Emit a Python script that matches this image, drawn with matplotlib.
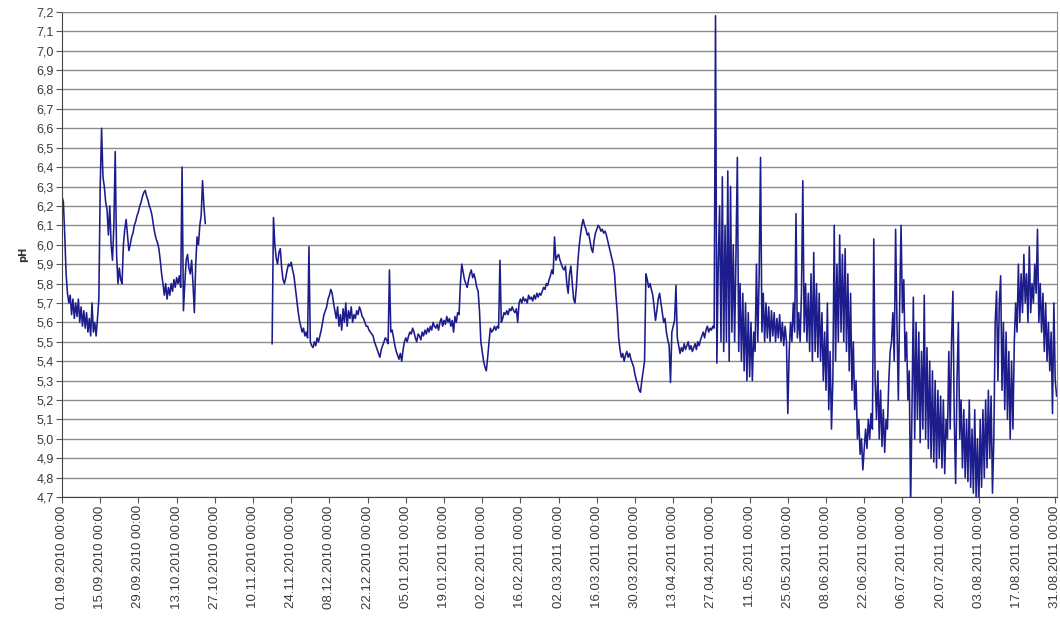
import numpy as np
import pandas as pd
import matplotlib
matplotlib.use("Agg")
import matplotlib.pyplot as plt
import matplotlib.dates as mdates

# pH readings, one every half day
step_days = 0.5

# first run: starts 01.09.2010 00:00
autumn_start = "2010-09-01"
autumn_ph = [
    6.25, 6.22, 6.05, 5.85, 5.75, 5.70, 5.74, 5.64, 5.72, 5.62,
    5.70, 5.63, 5.72, 5.60, 5.68, 5.58, 5.66, 5.57, 5.65, 5.55,
    5.62, 5.53, 5.70, 5.55, 5.60, 5.53, 5.62, 5.72, 6.30, 6.60,
    6.35, 6.30, 6.22, 6.18, 6.05, 6.20, 6.00, 5.92, 6.10, 6.48,
    5.95, 5.80, 5.88, 5.82, 5.80, 6.00, 6.08, 6.13, 6.05, 5.97,
    6.00, 6.04, 6.06, 6.10, 6.12, 6.15, 6.17, 6.20, 6.22, 6.25,
    6.27, 6.28, 6.25, 6.23, 6.20, 6.18, 6.15, 6.10, 6.06, 6.03,
    6.01, 5.98, 5.92, 5.85, 5.80, 5.74, 5.80, 5.72, 5.78, 5.74,
    5.80, 5.76, 5.82, 5.78, 5.83, 5.80, 5.84, 5.78, 6.40, 5.66,
    5.80, 5.92, 5.95, 5.88, 5.85, 5.92, 5.80, 5.65, 5.90, 6.04,
    6.00, 6.10, 6.15, 6.33, 6.20, 6.11,
]

# second run: starts 17.11.2010 00:00
main_start = "2010-11-17"
main_ph = [
    5.49, 6.14, 6.00, 5.93, 5.90, 5.96, 5.98, 5.88, 5.82, 5.80,
    5.83, 5.87, 5.90, 5.89, 5.91, 5.87, 5.84, 5.78, 5.72, 5.66,
    5.61, 5.58, 5.55, 5.57, 5.53, 5.55, 5.52, 5.99, 5.50, 5.48,
    5.47, 5.50, 5.48, 5.52, 5.50, 5.53, 5.56, 5.60, 5.64, 5.66,
    5.68, 5.72, 5.74, 5.77, 5.75, 5.70, 5.66, 5.62, 5.68, 5.58,
    5.64, 5.56, 5.67, 5.60, 5.70, 5.58, 5.66, 5.62, 5.68, 5.60,
    5.64, 5.62, 5.66, 5.64, 5.68, 5.66, 5.63, 5.62, 5.60, 5.58,
    5.58, 5.56, 5.55, 5.54, 5.53, 5.50, 5.48, 5.46, 5.44, 5.42,
    5.46, 5.48, 5.50, 5.52, 5.51, 5.49, 5.87, 5.55, 5.56, 5.52,
    5.48, 5.45, 5.43, 5.41, 5.44, 5.40, 5.46, 5.50, 5.52, 5.50,
    5.53, 5.55, 5.54, 5.57, 5.55, 5.52, 5.50, 5.54, 5.53, 5.51,
    5.55, 5.53, 5.56, 5.54, 5.57, 5.55, 5.58, 5.56, 5.60, 5.58,
    5.57, 5.59, 5.56, 5.60, 5.62, 5.58, 5.61, 5.59, 5.63, 5.60,
    5.62, 5.58, 5.61, 5.55, 5.63, 5.60, 5.65, 5.64, 5.80, 5.90,
    5.86, 5.82, 5.80, 5.78, 5.82, 5.85, 5.87, 5.83, 5.85, 5.82,
    5.78, 5.76, 5.66, 5.50, 5.45, 5.40, 5.37, 5.35, 5.42, 5.50,
    5.57, 5.55, 5.56, 5.58, 5.56, 5.58, 5.57, 5.92, 5.60, 5.62,
    5.65, 5.64, 5.66, 5.64, 5.67, 5.66, 5.68, 5.66, 5.65, 5.67,
    5.60, 5.70, 5.72, 5.70, 5.73, 5.71, 5.72, 5.70, 5.74, 5.72,
    5.73, 5.71, 5.74, 5.72, 5.75, 5.73, 5.75, 5.74, 5.76, 5.78,
    5.77, 5.80, 5.79, 5.82, 5.84, 5.87, 5.85, 6.04, 5.92, 5.94,
    5.95, 5.92, 5.90, 5.88, 5.87, 5.89, 5.80, 5.75, 5.85, 5.89,
    5.80, 5.72, 5.70, 5.78, 5.90, 5.99, 6.05, 6.10, 6.13, 6.10,
    6.08, 6.05, 6.06, 6.02, 5.98, 5.96, 6.02, 6.06, 6.08, 6.10,
    6.09, 6.07, 6.08, 6.06, 6.07, 6.05, 6.02, 5.99, 5.96, 5.93,
    5.90, 5.85, 5.74, 5.65, 5.52, 5.46, 5.42, 5.44, 5.40, 5.43,
    5.45, 5.42, 5.44, 5.41, 5.39, 5.37, 5.33, 5.30, 5.28, 5.25,
    5.24, 5.30, 5.35, 5.40, 5.85, 5.82, 5.78, 5.80, 5.77, 5.74,
    5.68, 5.61, 5.66, 5.72, 5.75, 5.70, 5.65, 5.60, 5.62, 5.55,
    5.51, 5.48, 5.29, 5.55, 5.58, 5.61, 5.79, 5.52, 5.48, 5.44,
    5.47, 5.45, 5.49, 5.46, 5.48, 5.50, 5.46, 5.48, 5.45, 5.47,
    5.49, 5.46, 5.50, 5.48, 5.51, 5.53, 5.55, 5.52, 5.56, 5.58,
    5.55, 5.57, 5.56, 5.58, 5.57, 7.18, 5.39, 5.90, 6.20, 5.50,
    6.35, 5.45, 6.10, 5.50, 6.38, 5.40, 6.30, 5.55, 6.00, 5.50,
    5.95, 6.45, 5.45, 5.80, 5.40, 5.75, 5.35, 5.70, 5.30, 5.65,
    5.32, 5.60, 5.30, 5.55, 5.45, 5.90, 5.50, 5.85, 6.45, 5.55,
    5.75, 5.50, 5.70, 5.52, 5.68, 5.50, 5.66, 5.53, 5.65, 5.50,
    5.62, 5.52, 5.64, 5.50, 5.60, 5.48, 5.58, 5.50, 5.13, 5.45,
    5.60, 5.50, 5.70, 5.55, 6.16, 5.52, 5.65, 5.50, 5.75, 6.33,
    5.55, 5.80, 5.50, 5.75, 5.45, 5.85, 5.40, 5.96, 5.45, 5.80,
    5.42, 5.75, 5.40, 5.65, 5.30, 5.55, 5.25, 5.70, 5.15, 5.45,
    5.05, 5.30, 6.10, 5.40, 5.90, 5.50, 6.05, 5.55, 5.95, 5.50,
    5.98, 5.45, 5.85, 5.35, 5.75, 5.25, 5.50, 5.15, 5.30, 5.00,
    5.10, 4.92, 5.00, 4.84, 4.95, 5.05, 4.95, 5.10, 5.00, 5.13,
    5.05, 6.03, 5.30, 5.10, 5.35, 5.00, 5.25, 4.96, 5.15, 4.93,
    5.10, 5.05, 5.30, 5.45, 5.50, 5.65, 5.40, 6.08, 5.60, 5.20,
    5.70, 6.10, 5.65, 5.82, 5.40, 5.55, 5.20, 5.35, 4.65, 5.15,
    5.73, 5.00, 5.60, 5.10, 5.55, 4.98, 5.45, 5.05, 5.74, 5.00,
    5.47, 4.95, 5.40, 4.90, 5.35, 4.88, 5.30, 4.85, 5.25, 4.90,
    5.22, 4.85, 5.20, 4.82, 5.10, 5.00, 5.45, 5.05, 5.50, 5.76,
    5.10, 4.77, 5.30, 5.60, 5.00, 5.20, 4.85, 5.15, 4.80, 5.10,
    4.78, 5.20, 4.75, 5.05, 4.72, 5.15, 4.70, 5.00, 4.65, 5.10,
    4.75, 5.15, 4.80, 5.20, 4.85, 5.25, 4.90, 5.22, 4.72, 5.00,
    5.60, 5.76, 5.30, 5.70, 5.84, 5.25, 5.60, 5.15, 5.55, 5.10,
    5.45, 5.00, 5.40, 5.05, 5.50, 5.70, 5.55, 5.90, 5.60, 5.85,
    5.65, 5.95, 5.70, 5.85, 5.60, 5.99, 5.65, 5.80, 5.70, 5.90,
    5.75, 6.08, 5.60, 5.80, 5.55, 5.75, 5.45, 5.70, 5.40, 5.60,
    5.35, 5.55, 5.13, 5.70, 5.30, 5.22,
]

tick_start = "2010-09-01"
tick_end = "2011-08-31"


def times(start, values):
    offsets = pd.to_timedelta(np.arange(len(values)) * step_days, unit="D")
    return pd.Timestamp(start) + offsets


fig = plt.figure(figsize=(10.6, 6.24), dpi=100)
ax = fig.add_axes([0.0585, 0.2035, 0.9385, 0.7775])

line_color = "#1c1c8c"
ax.plot(times(autumn_start, autumn_ph), autumn_ph, color=line_color, lw=1.15)
ax.plot(times(main_start, main_ph), main_ph, color=line_color, lw=1.15)

# y axis: 4,7 .. 7,2 with grid on every step
yticks = np.round(np.arange(4.7, 7.21, 0.1), 1)
ax.set_ylim(4.7, 7.2)
ax.set_yticks(yticks)
ax.set_yticklabels([f"{v:.1f}".replace(".", ",") for v in yticks])
ax.yaxis.grid(True, color="#8c8c8c", lw=1.0)
ax.set_axisbelow(True)
ax.set_ylabel("pH", fontsize=7, color="#333333", fontweight="bold", labelpad=6)

# x axis: a label every 14 days
xticks = pd.date_range(tick_start, tick_end, freq="14D")
ax.set_xticks(xticks)
ax.xaxis.set_major_formatter(mdates.DateFormatter("%d.%m.%Y %H:%M"))
ax.set_xlim(pd.Timestamp(tick_start), pd.Timestamp(tick_end) + pd.Timedelta(hours=14))

for lab in ax.get_xticklabels():
    lab.set_rotation(90)
    lab.set_fontsize(9.5)
    lab.set_color("#3a3a3a")
    lab.set_family("Liberation Sans")
for lab in ax.get_yticklabels():
    lab.set_fontsize(9)
    lab.set_color("#3a3a3a")
    lab.set_family("Liberation Sans")

ax.tick_params(axis="both", length=4, width=0.8, color="#555555", pad=2)
for side in ["top", "right"]:
    ax.spines[side].set_color("#8c8c8c")
for side in ["left", "bottom"]:
    ax.spines[side].set_color("#444444")

fig.savefig("out.png", dpi=100)
